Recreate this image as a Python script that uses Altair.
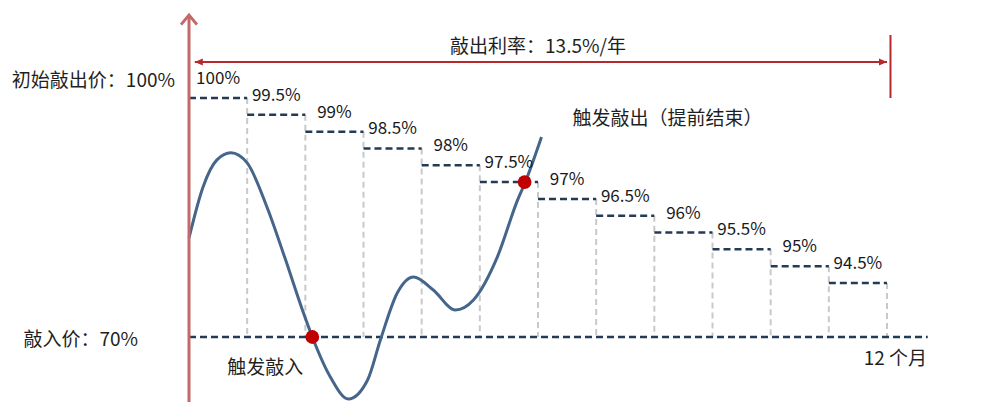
import altair as alt
import pandas as pd

# ---------------- data ----------------
step_start = [0, 1, 2, 3, 4, 5, 6, 7, 8, 9, 10, 11]
knockout_levels = [100, 99.5, 99, 98.5, 98, 97.5, 97, 96.5, 96, 95.5, 95, 94.5]
knockout_labels = ["100%", "99.5%", "99%", "98.5%", "98%", "97.5%",
                   "97%", "96.5%", "96%", "95.5%", "95%", "94.5%"]
knock_in_level = 70
total_months = 12

# schematic price path (month, price level)
path_month = [0.00, 0.24, 0.48, 0.72, 1.00, 1.34, 1.65, 1.95, 2.12, 2.43,
              2.74, 3.07, 3.29, 3.58, 3.86, 4.20, 4.58, 4.89, 5.30, 5.65,
              5.77, 6.06]
path_price = [95.84, 97.35, 98.16, 98.37, 98.07, 96.76, 95.24, 82.25, 70.0, 51.85,
              41.87, 50.49, 68.64, 89.96, 94.68, 91.32, 82.25, 86.79, 95.27, 96.97,
              97.45, 98.84]

hit_month = [2.12, 5.77]
hit_price = [70.0, 97.5]

txt_initial = "初始敲出价：100%"
txt_knock_in = "敲入价：70%"
txt_coupon = "敲出利率：13.5%/年"
txt_ko_event = "触发敲出（提前结束）"
txt_ki_event = "触发敲入"
txt_months = "12 个月"

# ---------------- frames ----------------
steps = pd.DataFrame({
    "start": step_start,
    "end": [s + 1 for s in step_start],
    "mid": [s + 0.5 for s in step_start],
    "level": knockout_levels,
    "label": knockout_labels,
})
verticals = pd.DataFrame({
    "month": [s + 1 for s in step_start],
    "top": knockout_levels,
    "bottom": [knock_in_level] * len(step_start),
})
path = pd.DataFrame({"month": path_month, "price": path_price})
hits = pd.DataFrame({"month": hit_month, "price": hit_price})

W, H = 984, 394
FONT = "Noto Sans CJK SC"
xs = alt.Scale(domain=[0, total_months], range=[181, 879], zero=False, nice=False)
ys = alt.Scale(domain=[70, 94.5, 100], range=[329, 275, 90], zero=False, nice=False)


def X(f):
    return alt.X(f, type="quantitative", scale=xs, axis=None)


def Y(f):
    return alt.Y(f, type="quantitative", scale=ys, axis=None)


grey = alt.Chart(verticals).mark_rule(
    color="#c9c9c9", strokeWidth=2, strokeDash=[6, 4]
).encode(x=X("month"), y=Y("top"), y2="bottom")

step_lines = alt.Chart(steps).mark_rule(
    color="#243b55", strokeWidth=2.5, strokeDash=[7, 4]
).encode(x=X("start"), x2="end", y=Y("level"))

step_text = alt.Chart(steps).mark_text(
    font=FONT, fontSize=17, color="#1a1a1a", align="center", baseline="middle", dy=-19
).encode(x=X("mid"), y=Y("level"), text="label")

ki_df = pd.DataFrame({"x0": [0], "x1": [12.7], "lvl": [knock_in_level]})
ki_line = alt.Chart(ki_df).mark_rule(
    color="#243b55", strokeWidth=2.5, strokeDash=[7, 4]
).encode(x=X("x0"), x2="x1", y=Y("lvl"))

curve = alt.Chart(path).mark_line(
    color="#45658b", strokeWidth=3, interpolate="monotone"
).encode(x=X("month"), y=Y("price"))

dots = alt.Chart(hits).mark_circle(size=190, color="#c00000", opacity=1).encode(
    x=X("month"), y=Y("price")
)

ax_df = pd.DataFrame({"x0": [0.0]})
yaxis = alt.Chart(ax_df).mark_rule(color="#c4696b", strokeWidth=3).encode(
    x=X("x0"), y=alt.value(8), y2=alt.value(H)
)
yhead = alt.Chart(ax_df).mark_point(
    shape="M-1,1.2L0,0L1,1.2", filled=False, strokeWidth=3, color="#c4696b",
    size=256, opacity=1
).encode(x=X("x0"), y=alt.value(7))

arr_df = pd.DataFrame({"a": [0.1], "b": [12.0], "bar": [12.06]})
top_line = alt.Chart(arr_df).mark_rule(color="#b5282c", strokeWidth=2).encode(
    x=X("a"), x2="b", y=alt.value(54)
)
head_l = alt.Chart(arr_df).mark_point(
    shape="M0,0L2,-0.9L2,0.9Z", filled=True, color="#b5282c", size=64, opacity=1
).encode(x=X("a"), y=alt.value(54))
head_r = alt.Chart(arr_df).mark_point(
    shape="M0,0L-2,-0.9L-2,0.9Z", filled=True, color="#b5282c", size=64, opacity=1
).encode(x=X("b"), y=alt.value(54))
end_bar = alt.Chart(arr_df).mark_rule(color="#b5282c", strokeWidth=2).encode(
    x=X("bar"), y=alt.value(27), y2=alt.value(90)
)

lab_df = pd.DataFrame({"a": [0]})


def fixed_label(text, x, y, align):
    return alt.Chart(lab_df).mark_text(
        text=text, font=FONT, fontSize=19, color="#1f1f1f", baseline="middle", align=align
    ).encode(x=alt.value(x), y=alt.value(y))


def data_label(text, mx, lv, align, dx, dy):
    d = pd.DataFrame({"m": [mx], "v": [lv]})
    return alt.Chart(d).mark_text(
        text=text, font=FONT, fontSize=19, color="#1f1f1f", baseline="middle",
        align=align, dx=dx, dy=dy
    ).encode(x=X("m"), y=Y("v"))


t_coupon = data_label(txt_coupon, 6, 100, "center", 0, -51)
t_initial = fixed_label(txt_initial, 167, 73, "right")
t_ki = fixed_label(txt_knock_in, 130, 332, "right")
t_months = fixed_label(txt_months, 919, 351, "right")
t_ko_evt = data_label(txt_ko_event, hit_month[1], hit_price[1], "left", 48, -63)
t_ki_evt = data_label(txt_ki_event, hit_month[0], hit_price[0], "center", -47, 31)

chart = alt.layer(
    grey, step_lines, ki_line, curve, dots, step_text,
    yaxis, yhead, top_line, head_l, head_r, end_bar,
    t_coupon, t_initial, t_ki, t_months, t_ko_evt, t_ki_evt,
).properties(
    width=W, height=H, padding=0, autosize="none", background="white"
).configure_view(stroke=None)

chart.save("out.html", embed_options={"renderer": "svg", "actions": False})
